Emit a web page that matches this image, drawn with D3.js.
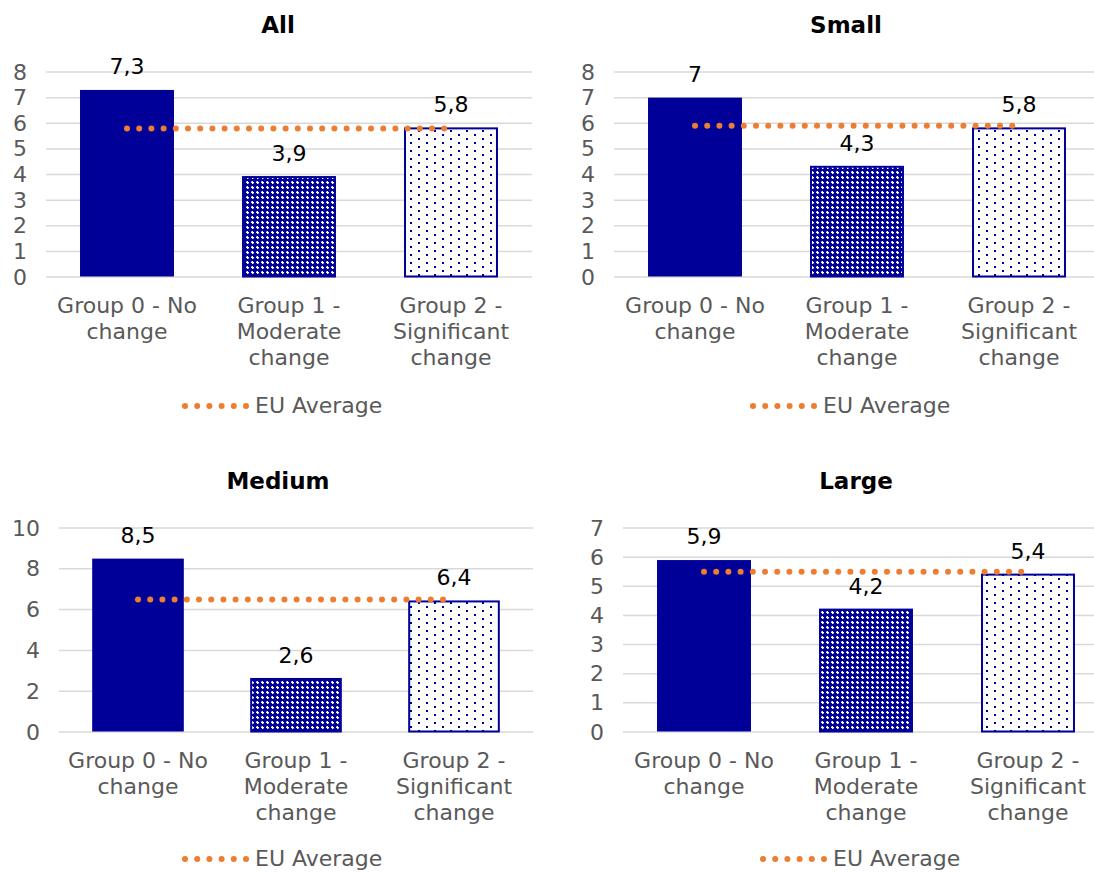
<!DOCTYPE html>
<html><head><meta charset="utf-8">
<script src="https://cdn.jsdelivr.net/npm/d3@7"></script>
<style>body{margin:0;background:#fff}svg{display:block}text{font-family:"DejaVu Sans",Verdana,sans-serif}</style>
</head><body>
<svg id="c" width="1094" height="872"></svg>
<script>
const categories = [["Group 0 - No","change"],["Group 1 -","Moderate","change"],["Group 2 -","Significant","change"]];
const panelTitles = ["All","Small","Medium","Large"];
const valuesAll = [7.3, 3.9, 5.8];
const valuesSmall = [7, 4.3, 5.8];
const valuesMedium = [8.5, 2.6, 6.4];
const valuesLarge = [5.9, 4.2, 5.4];
const euAverage = [5.8, 5.9, 6.5, 5.5];
const yMax = [8, 8, 10, 7];
const yStep = [1, 1, 2, 1];
const legendLabel = "EU Average";

const seriesValues = [valuesAll, valuesSmall, valuesMedium, valuesLarge];
const layout = [
  {l:46, r:532, t:72, b:277, tx:278, ty:25, lx:182, ly:406},
  {l:614, r:1100, t:72, b:277, tx:846, ty:25, lx:750, ly:406},
  {l:59, r:533, t:528, b:732, tx:278, ty:481, lx:182, ly:859},
  {l:623, r:1109, t:528, b:732, tx:856, ty:481, lx:760, ly:859}
];
const navy = "#000099", orange = "#ED7D31", grey = "#595959", grid = "#D9D9D9";
const FS = "22px";
const svg = d3.select("#c");
const defs = svg.append("defs");
// pattern for group 1: dense check
const p1 = defs.append("pattern").attr("id","pat1").attr("patternUnits","userSpaceOnUse").attr("width",5).attr("height",5);
p1.append("rect").attr("width",5).attr("height",5).attr("fill",navy);
p1.append("rect").attr("x",1).attr("y",2).attr("width",3).attr("height",1).attr("fill","#fff");
p1.append("rect").attr("x",2).attr("y",1).attr("width",1).attr("height",3).attr("fill","#fff");
p1.append("rect").attr("x",1).attr("y",1).attr("width",1).attr("height",1).attr("fill","#7777c4");
p1.append("rect").attr("x",3).attr("y",3).attr("width",1).attr("height",1).attr("fill","#7777c4");
// pattern for group 2: sparse dots
const p2 = defs.append("pattern").attr("id","pat2").attr("patternUnits","userSpaceOnUse").attr("width",16).attr("height",8);
p2.append("rect").attr("width",16).attr("height",8).attr("fill","#fff");
p2.append("rect").attr("x",2).attr("y",2).attr("width",2).attr("height",2).attr("fill",navy);
p2.append("rect").attr("x",10).attr("y",6).attr("width",2).attr("height",2).attr("fill",navy);
const fills = [navy, "url(#pat1)", "url(#pat2)"];
const fmt = v => String(v).replace(".", ",");

seriesValues.forEach((vals, i) => {
  const L = layout[i];
  const g = svg.append("g");
  const x = d3.scaleBand().domain(d3.range(categories.length)).range([L.l, L.r]).paddingInner(0.42).paddingOuter(0.21);
  const y = d3.scaleLinear().domain([0, yMax[i]]).range([L.b, L.t]);
  const ticks = d3.range(0, yMax[i] + 0.001, yStep[i]);
  // gridlines
  g.selectAll(".gl").data(ticks).join("line")
    .attr("x1", L.l).attr("x2", L.r).attr("y1", d => y(d)).attr("y2", d => y(d))
    .attr("stroke", grid).attr("stroke-width", 1.5);
  // y axis labels
  const yAxis = d3.axisLeft(y).tickValues(ticks).tickSize(0).tickPadding(19).tickFormat(d3.format("d"));
  const ya = g.append("g").attr("transform", `translate(${L.l},0)`).call(yAxis);
  ya.select(".domain").remove();
  ya.selectAll("text").attr("fill", grey).style("font-size", FS).style("font-family", '"DejaVu Sans",sans-serif');
  // bars
  g.selectAll(".bar").data(vals).join("rect")
    .attr("x", (d, j) => x(j) + (j ? 1 : 0)).attr("width", (d, j) => x.bandwidth() - (j ? 2 : 0))
    .attr("y", d => y(d)).attr("height", d => y(0) - y(d) - 0.5)
    .attr("fill", (d, j) => fills[j])
    .attr("stroke", (d, j) => j ? navy : "none").attr("stroke-width", 2);
  // value labels
  g.selectAll(".vl").data(vals).join("text")
    .attr("x", (d, j) => x(j) + x.bandwidth() / 2).attr("y", d => y(d) - 16)
    .attr("text-anchor", "middle").attr("font-size", FS).attr("fill", "#000")
    .text(fmt);
  // average line
  const n = categories.length;
  g.append("line")
    .attr("x1", x(0) + x.bandwidth() / 2).attr("x2", x(n - 1) + x.bandwidth() / 2)
    .attr("y1", y(euAverage[i])).attr("y2", y(euAverage[i]))
    .attr("stroke", orange).attr("stroke-width", 6).attr("stroke-linecap", "round")
    .attr("stroke-dasharray", "0 12.2");
  // category labels
  const cl = g.selectAll(".cl").data(categories).join("text")
    .attr("text-anchor", "middle").attr("font-size", FS).attr("fill", grey);
  cl.each(function(lines, j) {
    d3.select(this).selectAll("tspan").data(lines).join("tspan")
      .attr("x", x(j) + x.bandwidth() / 2).attr("y", (d, k) => L.b + 36 + k * 26).text(d => d);
  });
  // title
  g.append("text").attr("x", L.tx).attr("y", L.ty + 8).attr("text-anchor", "middle")
    .attr("font-size", "23px").attr("font-weight", "bold").attr("fill", "#000").text(panelTitles[i]);
  // legend
  g.append("line").attr("x1", L.lx + 3).attr("x2", L.lx + 66).attr("y1", L.ly).attr("y2", L.ly)
    .attr("stroke", orange).attr("stroke-width", 6).attr("stroke-linecap", "round").attr("stroke-dasharray", "0 12.2");
  g.append("text").attr("x", L.lx + 73).attr("y", L.ly + 7).attr("font-size", FS).attr("fill", grey).text(legendLabel);
});
</script>
</body></html>
